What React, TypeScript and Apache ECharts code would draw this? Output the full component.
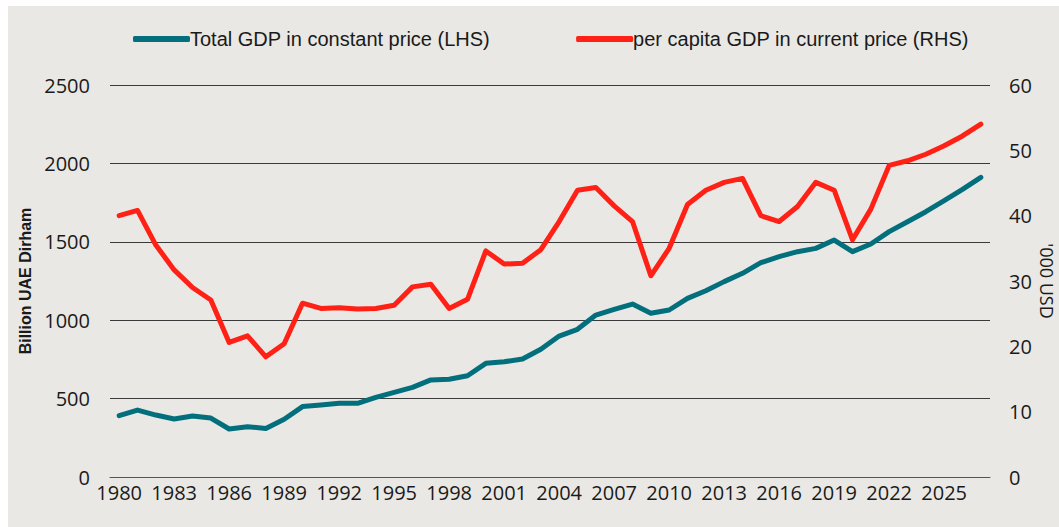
import React, { useEffect, useRef } from "react";
import * as echarts from "echarts";

const years: string[] = [];
for (let y = 1980; y <= 2027; y++) years.push(String(y));

const totalGdp = [
  391, 427, 395, 370, 389, 376, 306, 321, 310, 368,
  449, 459, 470, 470, 508, 540, 572, 619, 623, 646,
  725, 735, 753, 815, 899, 942, 1033, 1069, 1103, 1044,
  1065, 1139, 1188, 1246, 1299, 1367, 1405, 1437, 1458, 1511,
  1437, 1486, 1565, 1628, 1692, 1762, 1834, 1911,
];

const perCapita = [
  40.0, 40.8, 35.5, 31.7, 29.0, 27.1, 20.6, 21.6, 18.4, 20.4,
  26.6, 25.8, 25.9, 25.7, 25.8, 26.3, 29.1, 29.5, 25.8, 27.2,
  34.6, 32.6, 32.7, 34.8, 39.1, 43.9, 44.3, 41.5, 39.1, 30.8,
  35.0, 41.7, 43.9, 45.1, 45.7, 40.0, 39.1, 41.4, 45.1, 43.9,
  36.3, 41.0, 47.7, 48.4, 49.4, 50.7, 52.2, 54.0,
];

const TEAL = "#036f7c";
const RED = "#ff2116";
const TICK_FONT = "'Open Sans', 'Liberation Sans', sans-serif";

export default function App() {
  const ref = useRef<HTMLDivElement>(null);
  useEffect(() => {
    if (!ref.current) return;
    const chart = echarts.init(ref.current, undefined, { renderer: "svg" });
    chart.setOption({
      animation: false,
      backgroundColor: "#e9e8e4",
      legend: {
        top: 18,
        left: 120,
        itemGap: 86,
        itemWidth: 57,
        itemHeight: 6,
        icon: "roundRect",
        textStyle: {
          fontFamily: "'Liberation Sans', sans-serif",
          fontSize: 20,
          color: "#1a1a1a",
          padding: [0, 0, 0, -5],
        },
        data: [
          { name: "Total GDP in constant price (LHS)", itemStyle: { color: TEAL } },
          { name: "per capita GDP in current price (RHS)", itemStyle: { color: RED } },
        ],
      },
      graphic: [
        {
          type: "text",
          x: 1039,
          y: 275,
          rotation: -Math.PI / 2,
          style: {
            text: "'000 USD",
            fontFamily: TICK_FONT,
            fontSize: 18,
            fill: "#1a1a1a",
            align: "center",
            verticalAlign: "middle",
          },
        },
      ],
      grid: { left: 102, right: 69, top: 79, bottom: 50, containLabel: false, outerBoundsMode: "none" },
      xAxis: {
        type: "category",
        data: years,
        boundaryGap: true,
        axisLine: { lineStyle: { color: "#555", width: 1 } },
        axisTick: { interval: 0, length: 5, lineStyle: { color: "#555" } },
        axisLabel: {
          interval: 2,
          fontFamily: TICK_FONT,
          fontSize: 20,
          color: "#1a1a1a",
          margin: 5,
        },
      },
      yAxis: [
        {
          type: "value",
          min: 0,
          max: 2500,
          interval: 500,
          name: "Billion UAE Dirham",
          nameLocation: "middle",
          nameGap: 77,
          nameTextStyle: {
            fontFamily: "'Liberation Sans', sans-serif",
            fontWeight: "bold",
            fontSize: 16,
            color: "#1a1a1a",
          },
          axisLine: { show: false },
          axisTick: { show: false },
          axisLabel: {
            fontFamily: TICK_FONT,
            fontSize: 20,
            color: "#1a1a1a",
            margin: 20,
            formatter: (v: number) => String(v),
          },
          splitLine: { lineStyle: { color: "#3a3a3a", width: 1 } },
        },
        {
          type: "value",
          min: 0,
          max: 60,
          interval: 10,
          position: "right",
          axisLine: { show: false },
          axisTick: { show: false },
          axisLabel: {
            fontFamily: TICK_FONT,
            fontSize: 20,
            color: "#1a1a1a",
            margin: 19,
            formatter: (v: number) => String(v),
          },
          splitLine: { show: false },
        },
      ],
      series: [
        {
          name: "Total GDP in constant price (LHS)",
          type: "line",
          yAxisIndex: 0,
          data: totalGdp,
          symbol: "none",
          lineStyle: { color: TEAL, width: 5, cap: "round", join: "round" },
          itemStyle: { color: TEAL },
        },
        {
          name: "per capita GDP in current price (RHS)",
          type: "line",
          yAxisIndex: 1,
          data: perCapita,
          symbol: "none",
          lineStyle: { color: RED, width: 5, cap: "round", join: "round" },
          itemStyle: { color: RED },
        },
      ],
    });
    return () => chart.dispose();
  }, []);
  return (
    <div
      ref={ref}
      style={{ position: "absolute", left: 8, top: 6, width: 1051, height: 521 }}
    />
  );
}
